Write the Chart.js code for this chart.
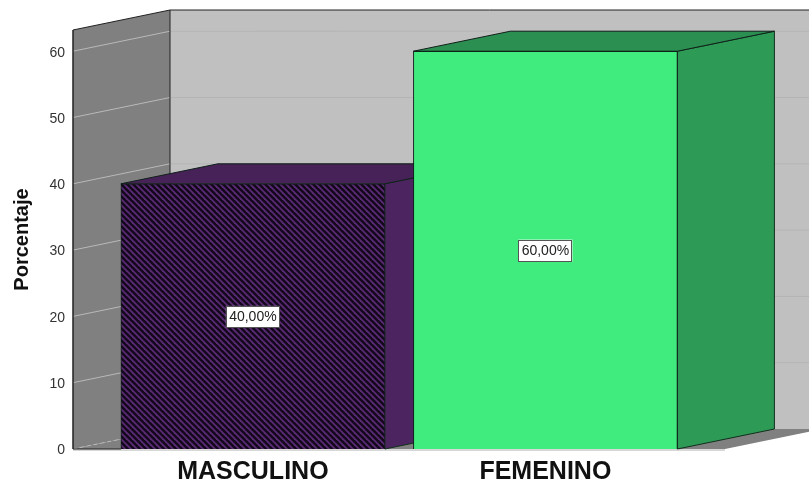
<!DOCTYPE html>
<html>
<head>
<meta charset="utf-8">
<style>
  html, body { margin: 0; padding: 0; background: #fff; }
  #wrap { width: 809px; height: 484px; }
</style>
<script src="https://cdn.jsdelivr.net/npm/chart.js@4"></script>
</head>
<body>
<div id="wrap"><canvas id="chart" width="809" height="484"></canvas></div>
<script>
const categories = ["MASCULINO", "FEMENINO"];
const percentages = [40, 60];
const valueLabels = ["40,00%", "60,00%"];
const yAxisTitle = "Porcentaje";

// depth of the fake 3D box, in pixels
const depthX = 97;
const depthY = -20;

const purple = "#4c2560";
const purpleDark = "#462258";
const green = "#41ec7f";
const greenSide = "#2d9a56";
const greenTop = "#2a8f50";

function hatchPattern() {
  const tile = document.createElement("canvas");
  tile.width = 6;
  tile.height = 6;
  const c = tile.getContext("2d");
  c.fillStyle = "#14081c";
  c.fillRect(0, 0, 6, 6);
  c.strokeStyle = "#5a2b74";
  c.lineWidth = 1.8;
  [[-3, 3, 3, 9], [0, 0, 6, 6], [3, -3, 9, 3]].forEach((s) => {
    c.beginPath();
    c.moveTo(s[0], s[1]);
    c.lineTo(s[2], s[3]);
    c.stroke();
  });
  return document.getElementById("chart").getContext("2d").createPattern(tile, "repeat");
}

function poly(ctx, pts, fill, stroke) {
  ctx.beginPath();
  pts.forEach((p, i) => (i ? ctx.lineTo(p[0], p[1]) : ctx.moveTo(p[0], p[1])));
  ctx.closePath();
  if (fill) {
    ctx.fillStyle = fill;
    ctx.fill();
  }
  if (stroke) {
    ctx.strokeStyle = stroke;
    ctx.lineWidth = 1;
    ctx.stroke();
  }
}

function line(ctx, x1, y1, x2, y2, color, width, dash) {
  ctx.beginPath();
  ctx.setLineDash(dash || []);
  ctx.moveTo(x1, y1);
  ctx.lineTo(x2, y2);
  ctx.strokeStyle = color;
  ctx.lineWidth = width;
  ctx.stroke();
  ctx.setLineDash([]);
}

// walls, floor and the top and side faces of the bars
const boxPlugin = {
  id: "box3d",
  beforeDatasetsDraw(chart) {
    const ctx = chart.ctx;
    const area = chart.chartArea;
    const yScale = chart.scales.y;
    const l = area.left, r = area.right, t = area.top, b = area.bottom;
    const w = chart.width;
    ctx.save();

    // floor
    poly(ctx, [[l, b], [r, b], [r + depthX, b + depthY], [l + depthX, b + depthY]], "#808080");
    // back wall runs off the canvas on the right
    poly(ctx, [[l + depthX, t + depthY], [w, t + depthY], [w, b + depthY], [l + depthX, b + depthY]], "#c0c0c0");
    // left wall
    poly(ctx, [[l, t], [l + depthX, t + depthY], [l + depthX, b + depthY], [l, b]], "#808080");

    yScale.ticks.forEach((tick) => {
      const y = yScale.getPixelForValue(tick.value);
      if (tick.value === 0) {
        line(ctx, l, y, l + depthX, y + depthY, "#b8b8b8", 1, [4, 3]);
      } else {
        line(ctx, l, y, l + depthX, y + depthY, "#b9b9b9", 1);
        line(ctx, l + depthX, y + depthY, w, y + depthY, "#b4b4b4", 1);
      }
    });

    line(ctx, l + depthX, t + depthY, w, t + depthY, "#222", 1);
    line(ctx, l, t, l + depthX, t + depthY, "#222", 1);
    line(ctx, l + depthX, t + depthY, l + depthX, b + depthY, "#222", 1);
    line(ctx, l, t, l, b, "#222", 1.5);
    line(ctx, l, b + 1, r, b + 1, "#b0b0b0", 1);
    line(ctx, l, b, chart.getDatasetMeta(0).data[0].x - 132, b, "#222", 1);

    const sideColors = [purple, greenSide];
    const topColors = [purpleDark, greenTop];
    chart.getDatasetMeta(0).data.forEach((bar, i) => {
      const half = bar.width / 2;
      const x1 = bar.x - half, x2 = bar.x + half, top = bar.y, base = bar.base;
      poly(ctx, [[x2, top], [x2 + depthX, top + depthY], [x2 + depthX, base + depthY], [x2, base]], sideColors[i], "#10301c");
      poly(ctx, [[x1, top], [x1 + depthX, top + depthY], [x2 + depthX, top + depthY], [x2, top]], topColors[i], "#10201a");
    });
    ctx.restore();
  },
  afterDatasetsDraw(chart) {
    const ctx = chart.ctx;
    const yScale = chart.scales.y;
    ctx.save();
    ctx.font = "14px 'Liberation Sans', Arial, sans-serif";
    ctx.textAlign = "center";
    ctx.textBaseline = "middle";
    chart.getDatasetMeta(0).data.forEach((bar, i) => {
      const y = yScale.getPixelForValue(percentages[i] / 2) + 0.5;
      ctx.fillStyle = "#fff";
      ctx.fillRect(bar.x - 27, y - 11, 54, 22);
      ctx.strokeStyle = "#555";
      ctx.lineWidth = 1;
      ctx.strokeRect(Math.round(bar.x - 27) + 0.5, Math.round(y - 11) + 0.5, 53, 21);
      ctx.fillStyle = "#222";
      ctx.fillText(valueLabels[i], bar.x, y + 0.5);
    });
    ctx.restore();
  },
};

new Chart(document.getElementById("chart"), {
  type: "bar",
  data: {
    datasets: [
      {
        data: categories.map((c, i) => ({ x: i + 1, y: percentages[i] })),
        backgroundColor: [hatchPattern(), green],
        borderColor: "#10201a",
        borderWidth: 1,
        barThickness: 264,
      },
    ],
  },
  plugins: [boxPlugin],
  options: {
    responsive: false,
    animation: false,
    layout: { padding: { top: 30, right: 84, left: 0, bottom: 0 } },
    plugins: { legend: { display: false }, tooltip: { enabled: false } },
    scales: {
      x: {
        type: "linear",
        offset: false,
        min: 0.385,
        max: 2.614,
        afterBuildTicks: (axis) => {
          axis.ticks = categories.map((c, i) => ({ value: i + 1 }));
        },
        afterFit: (axis) => {
          axis.height = 35;
        },
        grid: { display: false },
        border: { display: false },
        ticks: {
          callback: (v) => categories[v - 1],
          autoSkip: false,
          maxRotation: 0,
          color: "#111",
          padding: 0,
          font: { family: "'Liberation Sans', Arial, sans-serif", size: 25, weight: "bold" },
        },
      },
      y: {
        min: 0,
        max: 63.2,
        afterFit: (axis) => {
          axis.width = 73;
        },
        grid: { display: false },
        border: { display: false },
        title: {
          display: true,
          text: yAxisTitle,
          color: "#111",
          padding: { top: 10, bottom: 0 },
          font: { family: "'Liberation Sans', Arial, sans-serif", size: 20, weight: "bold" },
        },
        ticks: {
          stepSize: 10,
          includeBounds: false,
          color: "#333",
          padding: 0,
          labelOffset: 1.5,
          font: { family: "'Liberation Sans', Arial, sans-serif", size: 14 },
        },
      },
    },
  },
});
</script>
</body>
</html>
